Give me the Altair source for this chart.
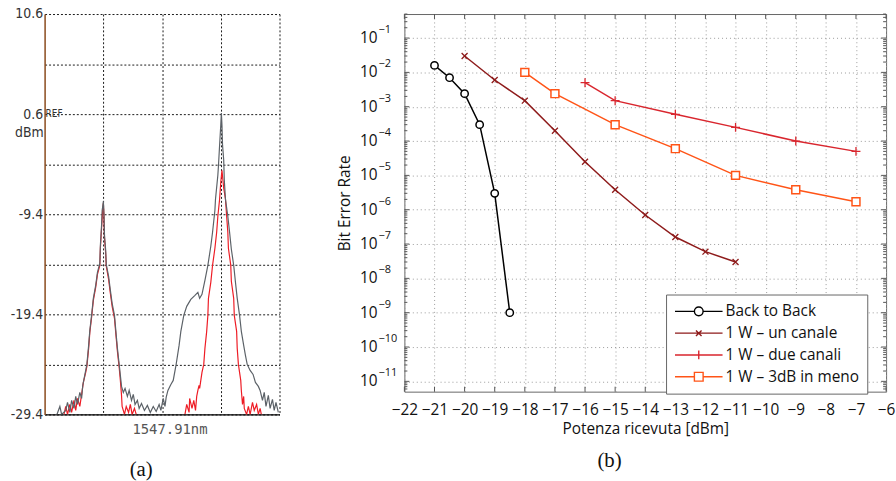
import altair as alt
import pandas as pd

# ---------------------------------------------------------------
# (a) optical spectrum: offset from 1547.91 nm [pm] and power [dBm]
# ---------------------------------------------------------------
grey_pm = [-179, -174, -171, -164, -161, -157, -154, -150, -147, -144, -140, -137,
           -135, -132, -128, -125, -123, -120, -117, -113, -110, -106, -105, -103,
           -102, -101, -100, -99, -98, -96, -95, -91, -88, -85, -81, -78, -76, -73,
           -71, -69, -66, -63, -59, -56, -52, -49, -46, -42, -39, -35, -30, -25,
           -20, -15, -10, -5, -2, 2, 5, 7, 10, 15, 19, 24, 29, 32, 37, 42, 49, 56,
           61, 64, 68, 73, 78, 83, 86, 90, 91, 95, 96, 98, 100, 101, 102, 103, 105,
           106, 108, 112, 115, 118, 122, 125, 128, 132, 135, 139, 142, 145, 150,
           155, 159, 164, 167, 171, 174, 177, 181, 184, 188, 191, 194, 198]
grey_dbm = [-29.4, -28.6, -29.4, -29.0, -28.2, -29.2, -28.0, -28.8, -27.6, -28.4, -27.2, -27.8,
            -26.5, -25.6, -24.4, -22.5, -21.0, -19.5, -17.8, -16.5, -15.2, -14.3, -12.5, -10.5,
            -9.0, -8.6, -8.1, -9.2, -11.5, -13.0, -14.4, -15.6, -17.0, -18.3, -19.5, -21.5, -22.8, -24.4,
            -25.5, -26.6, -27.2, -26.8, -27.6, -27.0, -28.0, -27.4, -28.4, -28.0, -28.8, -28.3, -29.0, -28.5,
            -29.2, -28.6, -29.1, -28.4, -29.0, -27.8, -28.6, -27.7, -27.0, -26.4, -26.0, -24.4, -22.5, -21.1,
            -19.5, -18.6, -17.9, -17.5, -17.2, -17.8, -17.4, -16.0, -14.5, -12.6, -11.2, -9.0, -7.9, -5.5,
            -4.6, -2.5, -0.5, 0.7, -0.5, -2.5, -4.0, -6.0, -7.9, -9.6, -11.2, -12.9, -14.5, -16.2, -17.8,
            -19.5, -21.1, -22.5, -23.5, -24.4, -25.0, -25.4, -26.2, -26.6, -27.0, -28.0, -27.2, -28.6,
            -27.5, -28.8, -27.9, -29.0, -28.2, -29.2]

# filtered trace, two separate sweeps above the noise floor
red_pm_1 = [-167, -164, -161, -157, -154, -150, -147, -144, -140, -137, -134, -130, -128,
            -125, -123, -120, -117, -113, -110, -106, -105, -103, -101, -100, -99, -98, -96,
            -95, -91, -88, -85, -81, -78, -76, -73, -71, -69, -68, -64, -61, -57, -54, -51,
            -47, -44]
red_dbm_1 = [-29.4, -28.6, -29.4, -28.4, -29.2, -28.0, -29.0, -27.8, -28.6, -27.4, -26.2, -25.2, -24.6,
             -22.8, -21.2, -19.7, -18.0, -16.7, -15.4, -14.5, -12.8, -10.8, -8.9, -8.3, -9.5, -11.8, -13.3,
             -14.6, -15.9, -17.3, -18.6, -19.8, -21.8, -23.1, -24.7, -26.0, -27.5, -28.6, -29.4, -28.6, -29.2,
             -28.4, -29.4, -28.8, -29.4]
red_pm_2 = [39, 42, 46, 47, 51, 54, 57, 59, 61, 63, 64, 66, 68, 71, 73, 76, 78, 79, 83, 86, 90,
            93, 95, 98, 100, 102, 103, 105, 108, 110, 112, 113, 117, 118, 122, 123, 127, 128, 130,
            134, 135, 137, 139, 140, 144, 147, 150, 154, 157, 161, 164, 167, 169]
red_dbm_2 = [-29.4, -28.4, -29.2, -27.8, -28.8, -28.0, -29.0, -27.6, -27.0, -26.5, -26.8, -26.0, -25.2,
             -24.4, -22.8, -21.1, -19.5, -17.8, -16.2, -14.5, -12.8, -11.2, -9.6, -7.9, -6.2, -5.0, -5.6,
             -6.8, -7.9, -9.6, -11.2, -12.8, -14.5, -16.1, -17.8, -19.5, -21.1, -22.8, -24.4, -26.0, -27.0,
             -28.4, -27.6, -28.8, -29.4, -28.6, -29.4, -28.2, -29.0, -28.4, -29.4, -28.8, -29.4]

db_grid = [10.6, 5.6, 0.6, -4.4, -9.4, -14.4, -19.4, -24.4, -29.4]
db_labels = ["10.6", "0.6", "-9.4", "-19.4", "-29.4"]
pm_grid = [-100, 0, 100, 200]

# ---------------------------------------------------------------
# (b) bit error rate versus received power
# ---------------------------------------------------------------
series = ["Back to Back", "1 W \u2013 un canale", "1 W \u2013 due canali", "1 W \u2013 3dB in meno"]
colors = ["#000000", "#8e1b1b", "#d9262e", "#ff5417"]

b2b_p = [-21, -20.5, -20, -19.5, -19, -18.5]
b2b_ber = [1.6e-2, 7e-3, 2.4e-3, 3e-4, 3e-6, 1e-9]
uno_p = [-20, -19, -18, -17, -16, -15, -14, -13, -12, -11]
uno_ber = [3e-2, 6e-3, 1.5e-3, 2e-4, 2.5e-5, 3.8e-6, 7e-7, 1.6e-7, 6e-8, 3e-8]
due_p = [-16, -15, -13, -11, -9, -7]
due_ber = [5e-3, 1.5e-3, 6e-4, 2.5e-4, 1e-4, 5e-5]
meno_p = [-18, -17, -15, -13, -11, -9, -7]
meno_ber = [1e-2, 2.4e-3, 3e-4, 6e-5, 1e-5, 3.8e-6, 1.7e-6]

x_ticks = list(range(-22, -5))
decades = list(range(-11, 0))
minor_mult = [2, 3, 4, 5, 6, 7, 8, 9]

# ---------------------------------------------------------------
W_A, H_A = 237, 404
W_B, H_B = 486, 381
GAP = 126
OSA_FONT = "Liberation Sans Narrow, DejaVu Sans Condensed, Liberation Sans, sans-serif"
FONT_B = "Open Sans"
FS_B = 15.5

# ---------- panel (a) ----------
grey_df = pd.DataFrame({"pm": grey_pm, "dbm": grey_dbm})
red_df = pd.concat([
    pd.DataFrame({"pm": red_pm_1, "dbm": red_dbm_1, "sweep": 1}),
    pd.DataFrame({"pm": red_pm_2, "dbm": red_dbm_2, "sweep": 2}),
])

label_expr = ("indexof(" + str(db_labels).replace(" ", "") +
              ", toString(datum.value)) >= 0 ? toString(datum.value) : ''")

xa = alt.X("pm:Q",
           scale=alt.Scale(domain=[-200, 200], nice=False, zero=False),
           axis=alt.Axis(values=pm_grid, grid=True, gridColor="#1a1a1a", gridDash=[2, 2],
                         gridWidth=1, labels=False, ticks=False, domainColor="#000000",
                         domainWidth=1.2, title="1547.91nm", titleFont="DejaVu Sans Mono",
                         titleFontSize=14, titleFontWeight="normal", titleColor="#555555",
                         titlePadding=8, titleX=126))
ya = alt.Y("dbm:Q",
           scale=alt.Scale(domain=[-29.4, 10.6], nice=False, zero=False),
           axis=alt.Axis(values=db_grid, grid=True, gridColor="#1a1a1a", gridDash=[2, 2],
                         gridWidth=1, ticks=False, domainColor="#8a4a1c", domainWidth=1.5,
                         labelExpr=label_expr, labelFont=OSA_FONT, labelFontSize=14,
                         labelColor="#333333", labelPadding=2, labelOverlap=False,
                         labelFlush=False, title=None))

red_lines = alt.Chart(red_df).mark_line(color="#ee1c25", strokeWidth=1.2, clip=True).encode(
    x=xa, y=ya, detail="sweep:N", order="pm:Q")
grey_line = alt.Chart(grey_df).mark_line(color="#5c6268", strokeWidth=1.2, clip=True).encode(
    x=xa, y=ya, order="pm:Q")

ref_df = pd.DataFrame({"dbm": [0.6], "t": ["REF"]})
unit_df = pd.DataFrame({"dbm": [0.6], "t": ["dBm"]})
ref_txt = alt.Chart(ref_df).mark_text(align="left", baseline="middle", dx=1, fontSize=10,
                                      font=OSA_FONT, color="#333333").encode(
    x=alt.value(0), y=ya, text="t:N")
unit_txt = alt.Chart(unit_df).mark_text(align="right", baseline="middle", dx=-1, dy=19,
                                        fontSize=14, font=OSA_FONT, color="#333333").encode(
    x=alt.value(0), y=ya, text="t:N")

panel_a = alt.layer(red_lines, grey_line, ref_txt, unit_txt).properties(
    width=W_A, height=H_A,
    title=alt.TitleParams("(a)", orient="bottom", font="Liberation Serif", fontSize=21,
                          fontWeight="normal", color="#111111", dx=-21, offset=23))

# ---------- panel (b) ----------
frames = []
for name, p, b in [(series[0], b2b_p, b2b_ber), (series[1], uno_p, uno_ber),
                   (series[2], due_p, due_ber), (series[3], meno_p, meno_ber)]:
    frames.append(pd.DataFrame({"serie": name, "p": p, "ber": b}))
ber_df = pd.concat(frames, ignore_index=True)

y_lo, y_hi = 10 ** -11.3, 10 ** -0.3
major_vals = [10.0 ** e for e in decades]
minor_vals = [m * 10.0 ** e for e in range(-12, 0) for m in minor_mult
              if y_lo <= m * 10.0 ** e <= y_hi]

xb_scale = alt.Scale(domain=[-22, -6], nice=False, zero=False)
yb_scale = alt.Scale(type="log", domain=[y_lo, y_hi], nice=False)
xb_axis = alt.Axis(values=x_ticks, grid=True, gridColor="#9a9a9a", gridDash=[1, 3],
                   ticks=False, domain=False, labelFont=FONT_B, labelFontSize=FS_B,
                   labelColor="#111111", labelPadding=11, labelOverlap=False, labelFlush=False,
                   title="Potenza ricevuta [dBm]", titleFont=FONT_B, titleFontSize=FS_B,
                   titleFontWeight="normal", titleColor="#111111", titlePadding=4)
yb_axis = alt.Axis(values=major_vals, grid=True, gridColor="#9a9a9a", gridDash=[1, 3],
                   labels=False, ticks=False, domain=False, title="Bit Error Rate",
                   titleFont=FONT_B, titleFontSize=FS_B, titleFontWeight="normal",
                   titleColor="#111111", titlePadding=52)
xb = alt.X("p:Q", scale=xb_scale, axis=xb_axis)
yb = alt.Y("ber:Q", scale=yb_scale, axis=yb_axis)
color_scale = alt.Scale(domain=series, range=colors)

TICK = "#555555"
xt_df = pd.DataFrame({"p": x_ticks})
ymaj_df = pd.DataFrame({"ber": major_vals})
ymin_df = pd.DataFrame({"ber": minor_vals})

tick_layers = [
    alt.Chart(xt_df).mark_rule(color=TICK).encode(x=xb, y=alt.value(H_B), y2=alt.value(H_B - 5)),
    alt.Chart(xt_df).mark_rule(color=TICK).encode(x=xb, y=alt.value(0), y2=alt.value(5)),
    alt.Chart(ymaj_df).mark_rule(color=TICK).encode(y=yb, x=alt.value(0), x2=alt.value(5)),
    alt.Chart(ymaj_df).mark_rule(color=TICK).encode(y=yb, x=alt.value(W_B - 5), x2=alt.value(W_B)),
    alt.Chart(ymin_df).mark_rule(color=TICK).encode(y=yb, x=alt.value(0), x2=alt.value(3)),
    alt.Chart(ymin_df).mark_rule(color=TICK).encode(y=yb, x=alt.value(W_B - 3), x2=alt.value(W_B)),
]

# decade labels written as 10 with a raised exponent
exp_df = pd.DataFrame({"ber": major_vals, "base": "10",
                       "esp": ["\u2212" + str(-e) for e in decades]})
base_txt = alt.Chart(exp_df).mark_text(align="right", baseline="middle", fontSize=FS_B,
                                       font=FONT_B, color="#111111").encode(
    x=alt.value(-27), y=yb, text="base:N")
esp_txt = alt.Chart(exp_df).mark_text(align="left", baseline="middle", dy=-8, fontSize=11,
                                      font=FONT_B, color="#111111").encode(
    x=alt.value(-26), y=yb, text="esp:N")

marker_style = {
    series[0]: dict(shape="circle", size=55, fill="#ffffff", strokeWidth=1.5),
    series[1]: dict(shape="M-1,-1L1,1M-1,1L1,-1", size=36, strokeWidth=1.3),
    series[2]: dict(shape="M-1,0H1M0,-1V1", size=81, strokeWidth=1.3),
    series[3]: dict(shape="square", size=64, fill="#ffffff", strokeWidth=1.5),
}
line_layers, point_layers = [], []
for name, col in zip(series, colors):
    sub = ber_df[ber_df["serie"] == name]
    line_layers.append(alt.Chart(sub).mark_line(color=col, strokeWidth=1.5).encode(
        x=xb, y=yb, order="p:Q"))
    st = marker_style[name]
    kw = dict(shape=st["shape"], size=st["size"], stroke=col, strokeWidth=st["strokeWidth"],
              opacity=1)
    if "fill" in st:
        kw.update(filled=True, fill=st["fill"])
    else:
        kw.update(filled=False)
    point_layers.append(alt.Chart(sub).mark_point(**kw).encode(x=xb, y=yb))

# legend entries: line with its marker; the legend sits inside the lower right of (b)
leg_paths = [
    "M-1,0H1.45M2.55,0H5M2.55,0A0.55,0.55 0 1,1 1.45,0A0.55,0.55 0 1,1 2.55,0",
    "M-1,0H5M1.65,-0.35L2.35,0.35M1.65,0.35L2.35,-0.35",
    "M-1,0H5M2,-0.55V0.55",
    "M-1,0H1.45M2.55,0H5M1.45,-0.55H2.55V0.55H1.45Z",
]
leg_def = alt.Legend(title=None, orient="none", legendX=W_A + GAP + 264, legendY=283,
                     padding=8, strokeColor="#666666", fillColor="#ffffff", labelFont=FONT_B,
                     labelFontSize=FS_B, labelColor="#111111", symbolSize=256,
                     symbolStrokeWidth=1.4, labelOffset=34, rowPadding=4, labelLimit=300)
legend_layer = alt.Chart(ber_df).mark_point(filled=False, opacity=0, size=0).encode(
    x=xb, y=yb,
    color=alt.Color("serie:N", scale=color_scale, legend=leg_def),
    shape=alt.Shape("serie:N", scale=alt.Scale(domain=series, range=leg_paths), legend=leg_def))

panel_b = alt.layer(*tick_layers, *line_layers, *point_layers, base_txt, esp_txt,
                    legend_layer).properties(
    width=W_B, height=H_B,
    view=alt.ViewBackground(stroke="#666666", strokeWidth=1),
    title=alt.TitleParams("(b)", orient="bottom", font="Liberation Serif", fontSize=21,
                          fontWeight="normal", color="#111111", dx=-36, offset=13))

chart = alt.hconcat(panel_a, panel_b, spacing=GAP, bounds="flush").configure(
    padding={"left": 10, "top": 5, "right": 0, "bottom": 0},
).configure_view(strokeWidth=0).configure_legend(symbolOpacity=1)

chart.save("out.html", embed_options={"renderer": "svg", "actions": False})
